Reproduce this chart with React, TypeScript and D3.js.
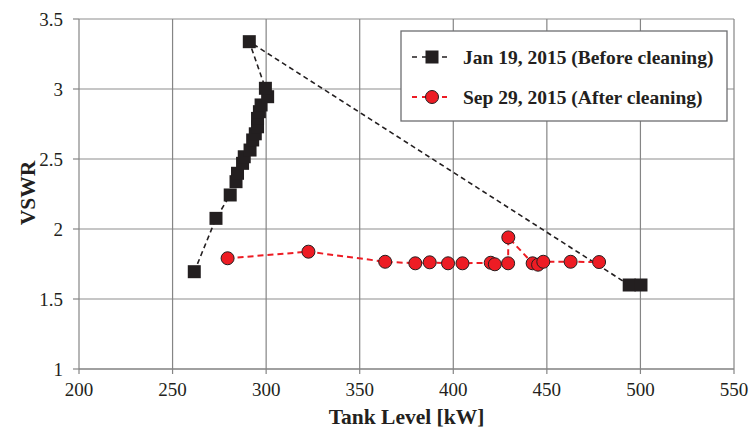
import React from "react";
import * as d3 from "d3";

const beforeX = [261.6, 273.2, 280.8, 283.9, 284.7, 287.4, 288.3, 291.4, 292.8, 294.2, 295.4, 295.4, 296.4, 297.3, 300.8, 299.6, 291.0, 494.0, 500.3];
const beforeY = [1.695, 2.076, 2.243, 2.338, 2.398, 2.469, 2.516, 2.564, 2.636, 2.68, 2.73, 2.79, 2.838, 2.886, 2.945, 3.005, 3.338, 1.6, 1.6];

const afterX = [279.4, 322.6, 363.6, 379.7, 387.4, 397.2, 404.9, 420.0, 422.2, 429.3, 429.4, 442.4, 445.3, 448.1, 462.7, 477.9];
const afterY = [1.791, 1.838, 1.766, 1.755, 1.762, 1.755, 1.755, 1.759, 1.748, 1.755, 1.94, 1.755, 1.745, 1.766, 1.766, 1.764];

const xTicks = [200, 250, 300, 350, 400, 450, 500, 550];
const yTicks = [1, 1.5, 2, 2.5, 3, 3.5];
const seriesNames = ["Jan 19, 2015 (Before cleaning)", "Sep 29, 2015 (After cleaning)"];

const W = 751, H = 432;
const L = 79, R = 734, T = 19, B = 369;

export default function App() {
  const x = d3.scaleLinear().domain([200, 550]).range([L, R]);
  const y = d3.scaleLinear().domain([1, 3.5]).range([B, T]);
  const line = d3.line<[number, number]>().x(d => x(d[0])).y(d => y(d[1]));
  const before: [number, number][] = beforeX.map((v, i) => [v, beforeY[i]]);
  const after: [number, number][] = afterX.map((v, i) => [v, afterY[i]]);
  const tf: React.CSSProperties = { fontFamily: "Liberation Serif" };
  const sq = 13;
  const black = "#231f20";
  const red = "#ed1c24";
  return (
    <svg width={W} height={H} style={{ position: "absolute", left: 0, top: 0, background: "#fff" }}>
      {yTicks.map(t => (
        <line key={"h" + t} x1={L} x2={R} y1={y(t)} y2={y(t)} stroke={t === 1 ? "#808080" : "#b3b3b3"} strokeWidth={t === 1 ? 1.3 : 1.6} />
      ))}
      {xTicks.map(t => (
        <line key={"v" + t} x1={x(t)} x2={x(t)} y1={T} y2={B + 5} stroke="#858585" strokeWidth={1.2} />
      ))}
      {yTicks.map(t => (
        <g key={"yt" + t}>
          <line x1={L - 6} x2={L} y1={y(t)} y2={y(t)} stroke="#858585" strokeWidth={1.2} />
          <text x={L - 16} y={y(t)} dy="0.35em" textAnchor="end" fontSize={19} fill="#231f20" style={tf}>{t}</text>
        </g>
      ))}
      {xTicks.map(t => (
        <text key={"xt" + t} x={x(t)} y={B + 27} textAnchor="middle" fontSize={19} fill="#231f20" style={tf}>{t}</text>
      ))}
      <text x={(L + R) / 2} y={424} textAnchor="middle" fontSize={21.5} fontWeight="bold" fill="#231f20" style={tf}>Tank Level [kW]</text>
      <text transform={`translate(35, 193) rotate(-90)`} textAnchor="middle" fontSize={21.5} fontWeight="bold" fill="#231f20" style={tf}>VSWR</text>

      <path d={line(before) || ""} fill="none" stroke={black} strokeWidth={1.6} strokeDasharray="5,3.5" />
      {before.map((d, i) => (
        <rect key={"b" + i} x={x(d[0]) - sq / 2} y={y(d[1]) - sq / 2} width={sq} height={sq} fill={black} />
      ))}
      <path d={line(after) || ""} fill="none" stroke={red} strokeWidth={2} strokeDasharray="6,4" />
      {after.map((d, i) => (
        <circle key={"a" + i} cx={x(d[0])} cy={y(d[1])} r={6.5} fill={red} stroke={black} strokeWidth={1} />
      ))}

      <rect x={401} y={31} width={326} height={90} fill="#fff" stroke="#6d6e71" strokeWidth={1.3} />
      <line x1={412} x2={452} y1={57} y2={57} stroke={black} strokeWidth={1.6} strokeDasharray="5,5" />
      <rect x={432 - sq / 2} y={57 - sq / 2} width={sq} height={sq} fill={black} />
      <text x={463} y={57} dy="0.35em" fontSize={19.5} fontWeight="bold" fill="#231f20" style={tf}>{seriesNames[0]}</text>
      <line x1={412} x2={452} y1={97} y2={97} stroke={red} strokeWidth={2} strokeDasharray="5,5" />
      <circle cx={432} cy={97} r={6.5} fill={red} stroke={black} strokeWidth={1} />
      <text x={463} y={97} dy="0.35em" fontSize={19.5} fontWeight="bold" fill="#231f20" style={tf}>{seriesNames[1]}</text>
    </svg>
  );
}
